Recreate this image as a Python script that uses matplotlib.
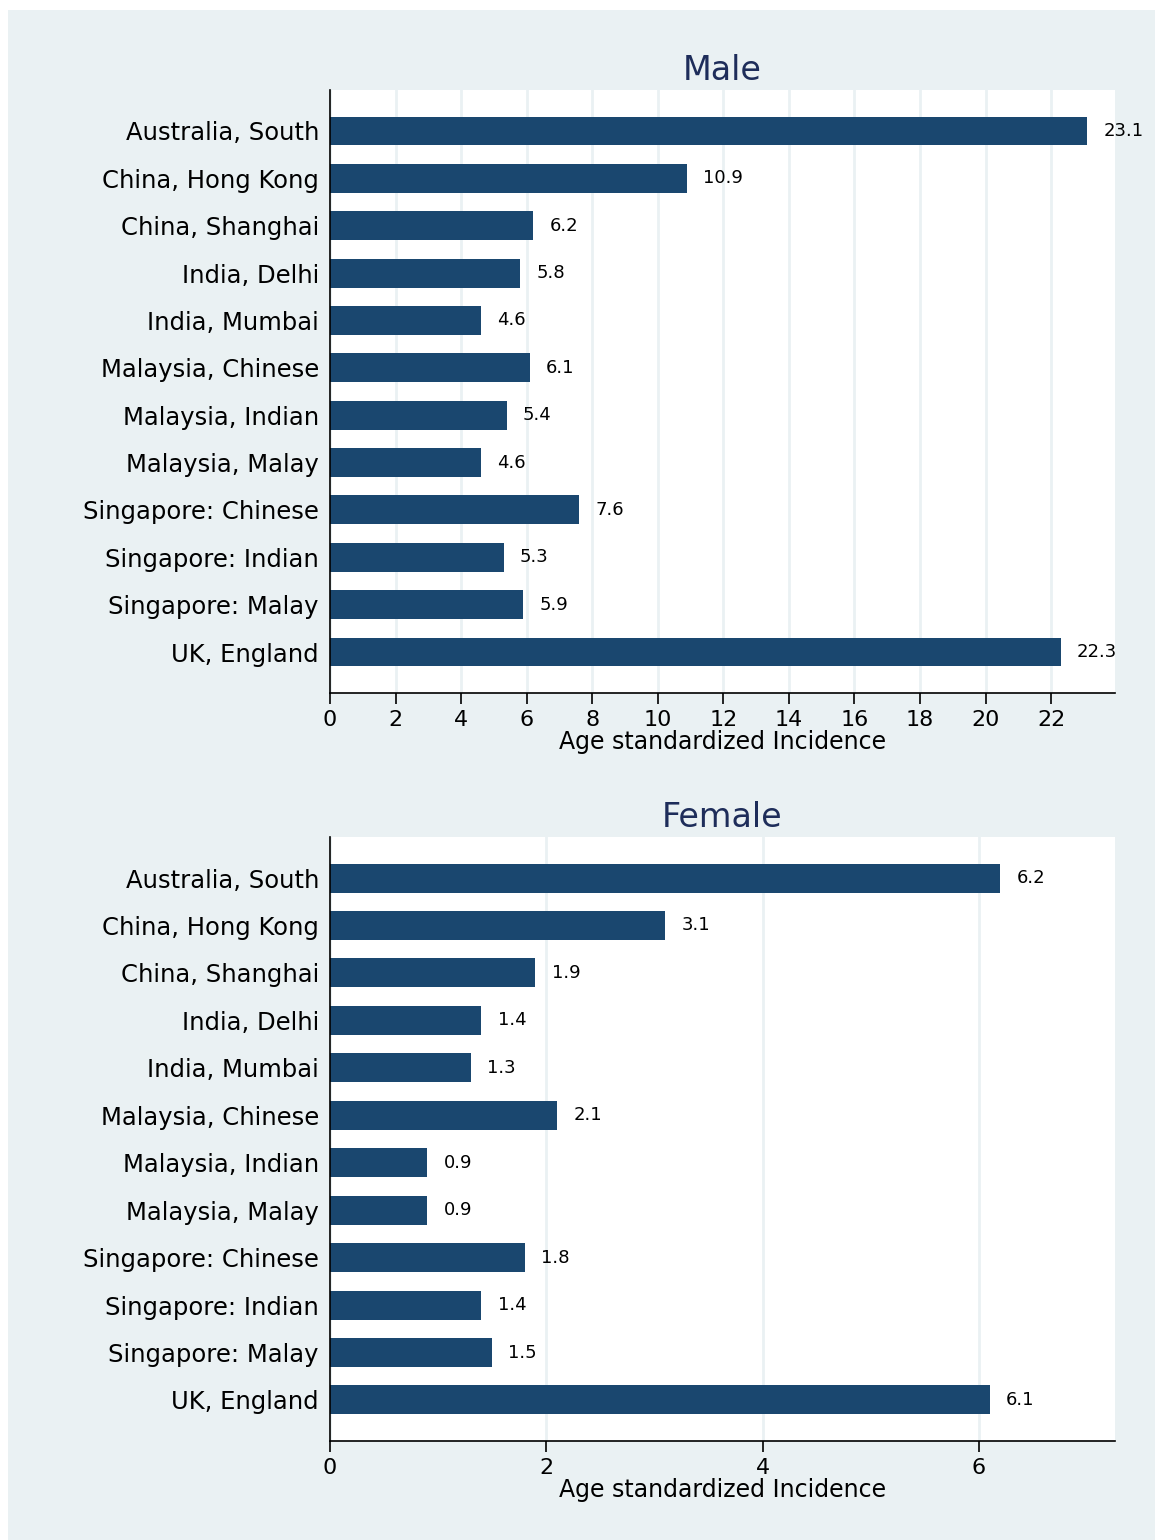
import matplotlib.pyplot as plt

sites = ['Australia, South', 'China, Hong Kong', 'China, Shanghai', 'India, Delhi',
         'India, Mumbai', 'Malaysia, Chinese', 'Malaysia, Indian', 'Malaysia, Malay',
         'Singapore: Chinese', 'Singapore: Indian', 'Singapore: Malay', 'UK, England']
male = [23.1, 10.9, 6.2, 5.8, 4.6, 6.1, 5.4, 4.6, 7.6, 5.3, 5.9, 22.3]
female = [6.2, 3.1, 1.9, 1.4, 1.3, 2.1, 0.9, 0.9, 1.8, 1.4, 1.5, 6.1]
male_ticks = list(range(0, 23, 2))
female_ticks = [0, 2, 4, 6]

bg = '#EAF1F3'
bar_col = '#1A476F'
title_col = '#1E2D5A'

plt.rcParams['font.family'] = ['DejaVu Sans']

fig = plt.figure(figsize=(11.55, 15.4), dpi=100)
fig.patch.set_facecolor('white')
# shaded graph region, leaving a thin white strip on the left and top
fig.patches.append(plt.Rectangle((8 / 1155, 0), 1 - 8 / 1155, 1 - 10 / 1540,
                                 transform=fig.transFigure, facecolor=bg,
                                 edgecolor='none', zorder=-10))


def panel(rect, values, ticks, xmax, title, offset):
    ax = fig.add_axes(rect)
    ax.set_facecolor('white')
    pos = list(range(len(sites)))
    ax.barh(pos, values, height=0.61, color=bar_col, zorder=2)
    for y, v in zip(pos, values):
        ax.text(v + offset, y, f'{v:.1f}', va='center', ha='left', fontsize=13)
    ax.set_yticks(pos)
    ax.set_yticklabels(sites, fontsize=17.5)
    ax.set_ylim(len(sites) - 0.135, -0.865)
    ax.set_xlim(0, xmax)
    ax.set_xticks(ticks)
    ax.set_xticklabels([str(t) for t in ticks], fontsize=16)
    ax.tick_params(axis='y', length=0, pad=8)
    ax.tick_params(axis='x', length=8, width=1.2, pad=4)
    ax.grid(axis='x', color=bg, linewidth=2, zorder=0)
    ax.set_axisbelow(True)
    for s in ['top', 'right']:
        ax.spines[s].set_visible(False)
    for s in ['left', 'bottom']:
        ax.spines[s].set_linewidth(1.2)
    ax.set_xlabel('Age standardized Incidence', fontsize=17, labelpad=0)
    ax.set_title(title, fontsize=24, color=title_col, pad=7)
    return ax


W, H = 1155, 1540
panel([330 / W, 1 - 693 / H, 785 / W, 603 / H], male, male_ticks, 23.95, 'Male', 0.49)
panel([330 / W, 1 - 1441 / H, 785 / W, 604 / H], female, female_ticks, 7.26, 'Female', 0.15)

fig.savefig('out.png', dpi=100)
